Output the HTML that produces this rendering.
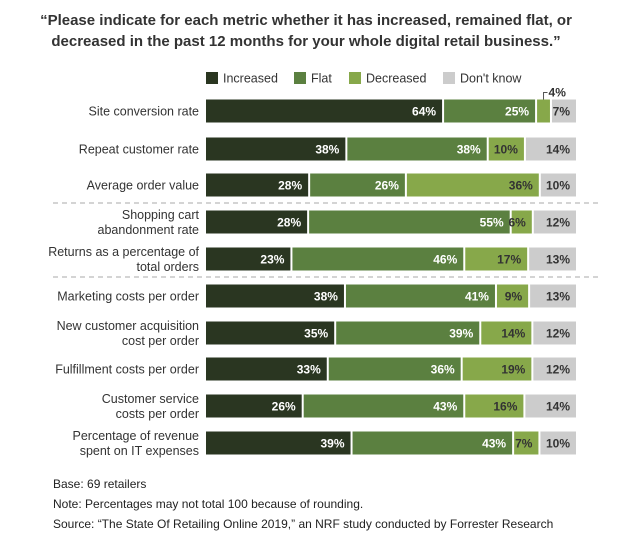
<!DOCTYPE html>
<html><head><meta charset="utf-8"><style>
body{margin:0;background:#fff;font-family:"Liberation Sans",Arial,sans-serif;}
#wrap{position:relative;width:638px;height:547px;overflow:hidden;}
.t{position:absolute;white-space:nowrap;}
</style></head><body>
<div id="wrap">
<div class="t" style="left:0;width:612px;top:10px;text-align:center;font-weight:bold;font-size:15px;line-height:21px;color:#333;">“Please indicate for each metric whether it has increased, remained flat, or<br>decreased in the past 12 months for your whole digital retail business.”</div>
<svg id="svg" width="638" height="547" style="position:absolute;left:0;top:0"></svg>
<div class="t" style="left:53px;top:477px;font-size:12px;color:#222;">Base: 69 retailers</div>
<div class="t" style="left:53px;top:497px;font-size:12px;color:#222;">Note: Percentages may not total 100 because of rounding.</div>
<div class="t" style="left:53px;top:517px;font-size:12px;color:#222;">Source: “The State Of Retailing Online 2019,” an NRF study conducted by Forrester Research</div>
</div>
<script>
const categories=[["Site conversion rate"],["Repeat customer rate"],["Average order value"],["Shopping cart","abandonment rate"],["Returns as a percentage of","total orders"],["Marketing costs per order"],["New customer acquisition","cost per order"],["Fulfillment costs per order"],["Customer service","costs per order"],["Percentage of revenue","spent on IT expenses"]];
const increased=[64,38,28,28,23,38,35,33,26,39];
const flat=[25,38,26,55,46,41,39,36,43,43];
const decreased=[4,10,36,6,17,9,14,19,16,7];
const dontKnow=[7,14,10,12,13,13,12,12,14,10];
const seriesNames=["Increased","Flat","Decreased","Don't know"];
const colors=["#2a3621","#5b8040","#87a84a","#cccccc"];
const textColors=["#fff","#fff","#333","#333"];
const rowY=[111,149,185,222,259,296,333,369,406,443];
const NS="http://www.w3.org/2000/svg";
const svg=document.getElementById("svg");
function el(t,a,p){const e=document.createElementNS(NS,t);for(const k in a)e.setAttribute(k,a[k]);(p||svg).appendChild(e);return e;}
const x0=206,x1=578,barH=23;
const xScale=(v,tot)=>v/tot*(x1-x0);
// legend
let lx=[206,294,349,443];
seriesNames.forEach((n,i)=>{
 const r=el("rect",{x:lx[i],y:72,width:12,height:12,fill:colors[i]});
 
 
 const t=el("text",{x:lx[i]+17,y:82.5,"font-size":12.5,fill:"#333"});
 t.textContent=n;
 
 
});
// separators
[203,277].forEach(y=>{
 const l=el("line",{x1:53,x2:598,y1:y,y2:y,stroke:"#aaa","stroke-dasharray":"5,4","stroke-width":1});
 
 
});
const series=[increased,flat,decreased,dontKnow];
categories.forEach((cat,i)=>{
 const cy=rowY[i];
 const lab=el("text",{"text-anchor":"end","font-size":12.5,fill:"#333"});
 
 
 cat.forEach((ln,j)=>{const ts=el("tspan",{x:199,y:cy+4.5+(j-(cat.length-1)/2)*15},lab);ts.textContent=ln;});
 const tot=series.reduce((s,a)=>s+a[i],0);
 let x=x0;
 series.forEach((arr,k)=>{
  const w=xScale(arr[i],tot);
  const r=el("rect",{x:x,y:cy-barH/2,width:Math.max(w-2,0),height:barH,fill:colors[k]});
  
  
  if(arr[i]>=6 || k==3){
   const t=el("text",{x:x+w-8,y:cy+4.5,"text-anchor":"end","font-size":12,"font-weight":"bold",fill:textColors[k]});
   t.textContent=arr[i]+"%";
   
   
  } else {
   const mx=x+w/2-1;
   const p=el("polyline",{points:`${mx},${cy-barH/2} ${mx},${cy-barH/2-7} ${mx+4},${cy-barH/2-7}`,fill:"none",stroke:"#555","stroke-width":1});
   
   
   const t=el("text",{x:mx+5,y:cy-barH/2-3,"font-size":12,"font-weight":"bold",fill:"#333"});
   t.textContent=arr[i]+"%";
   
   
  }
  x+=w;
 });
});
</script>
</body></html>
